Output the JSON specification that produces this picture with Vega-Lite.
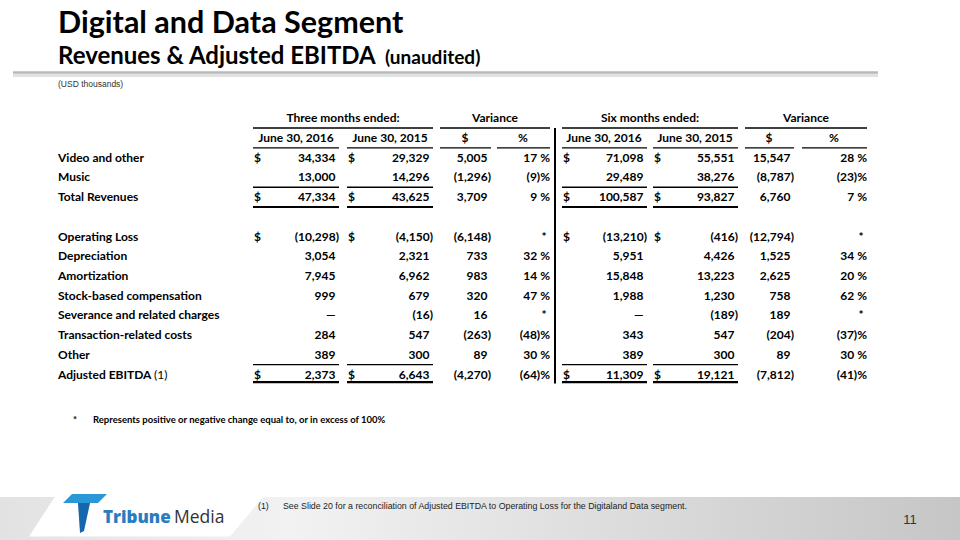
{
  "$schema": "https://vega.github.io/schema/vega-lite/v6.json",
  "width": 960,
  "height": 540,
  "autosize": "none",
  "padding": 0,
  "background": "white",
  "config": {"view": {"stroke": null}},
  "datasets": {
    "table": [
      {"r": 2, "label": "Video and other", "g1": "34,334", "g2": "29,329", "g3": "5,005", "g4": "17 %", "g5": "71,098", "g6": "55,551", "g7": "15,547", "g8": "28 %"},
      {"r": 3, "label": "Music", "g1": "13,000", "g2": "14,296", "g3": "(1,296)", "g4": "(9)%", "g5": "29,489", "g6": "38,276", "g7": "(8,787)", "g8": "(23)%"},
      {"r": 4, "label": "Total Revenues", "g1": "47,334", "g2": "43,625", "g3": "3,709", "g4": "9 %", "g5": "100,587", "g6": "93,827", "g7": "6,760", "g8": "7 %"},
      {"r": 6, "label": "Operating Loss", "g1": "(10,298)", "g2": "(4,150)", "g3": "(6,148)", "g4": "*", "g5": "(13,210)", "g6": "(416)", "g7": "(12,794)", "g8": "*"},
      {"r": 7, "label": "Depreciation", "g1": "3,054", "g2": "2,321", "g3": "733", "g4": "32 %", "g5": "5,951", "g6": "4,426", "g7": "1,525", "g8": "34 %"},
      {"r": 8, "label": "Amortization", "g1": "7,945", "g2": "6,962", "g3": "983", "g4": "14 %", "g5": "15,848", "g6": "13,223", "g7": "2,625", "g8": "20 %"},
      {"r": 9, "label": "Stock-based compensation", "g1": "999", "g2": "679", "g3": "320", "g4": "47 %", "g5": "1,988", "g6": "1,230", "g7": "758", "g8": "62 %"},
      {"r": 10, "label": "Severance and related charges", "g1": "—", "g2": "(16)", "g3": "16", "g4": "*", "g5": "—", "g6": "(189)", "g7": "189", "g8": "*"},
      {"r": 11, "label": "Transaction-related costs", "g1": "284", "g2": "547", "g3": "(263)", "g4": "(48)%", "g5": "343", "g6": "547", "g7": "(204)", "g8": "(37)%"},
      {"r": 12, "label": "Other", "g1": "389", "g2": "300", "g3": "89", "g4": "30 %", "g5": "389", "g6": "300", "g7": "89", "g8": "30 %"},
      {"r": 13, "label": "Adjusted EBITDA", "g1": "2,373", "g2": "6,643", "g3": "(4,270)", "g4": "(64)%", "g5": "11,309", "g6": "19,121", "g7": "(7,812)", "g8": "(41)%"}
    ],
    "columns": [
      {"col": "label", "c": 2},
      {"col": "g1", "c": 12}, {"col": "g2", "c": 22}, {"col": "g3", "c": 32}, {"col": "g4", "c": 42},
      {"col": "g5", "c": 52}, {"col": "g6", "c": 62}, {"col": "g7", "c": 72}, {"col": "g8", "c": 82}
    ],
    "dollars": [
      {"r": 2, "c": 10, "t": "$"}, {"r": 2, "c": 20, "t": "$"}, {"r": 2, "c": 50, "t": "$"}, {"r": 2, "c": 60, "t": "$"},
      {"r": 4, "c": 10, "t": "$"}, {"r": 4, "c": 20, "t": "$"}, {"r": 4, "c": 50, "t": "$"}, {"r": 4, "c": 60, "t": "$"},
      {"r": 6, "c": 10, "t": "$"}, {"r": 6, "c": 20, "t": "$"}, {"r": 6, "c": 50, "t": "$"}, {"r": 6, "c": 60, "t": "$"},
      {"r": 13, "c": 10, "t": "$"}, {"r": 13, "c": 20, "t": "$"}, {"r": 13, "c": 50, "t": "$"}, {"r": 13, "c": 60, "t": "$"}
    ],
    "headers": [
      {"r": 0, "c": 12.5, "t": "Three months ended:"},
      {"r": 0, "c": 32.5, "t": "Variance"},
      {"r": 0, "c": 52.5, "t": "Six months ended:"},
      {"r": 0, "c": 80.5, "t": "Variance"},
      {"r": 1, "c": 11, "t": "June 30, 2016"},
      {"r": 1, "c": 21, "t": "June 30, 2015"},
      {"r": 1, "c": 31, "t": "$"},
      {"r": 1, "c": 41, "t": "%"},
      {"r": 1, "c": 51, "t": "June 30, 2016"},
      {"r": 1, "c": 61, "t": "June 30, 2015"},
      {"r": 1, "c": 71, "t": "$"},
      {"r": 1, "c": 81, "t": "%"}
    ],
    "thinLines": [
      {"r": 0.5, "c": 10, "c2": 22}, {"r": 0.5, "c": 30, "c2": 42}, {"r": 0.5, "c": 50, "c2": 62}, {"r": 0.5, "c": 70, "c2": 82},
      {"r": 1.5, "c": 10, "c2": 12}, {"r": 1.5, "c": 20, "c2": 22}, {"r": 1.5, "c": 30, "c2": 32}, {"r": 1.5, "c": 40, "c2": 42},
      {"r": 1.5, "c": 50, "c2": 52}, {"r": 1.5, "c": 60, "c2": 62}, {"r": 1.5, "c": 70, "c2": 72}, {"r": 1.5, "c": 80, "c2": 82},
      {"r": 3.5, "c": 10, "c2": 12}, {"r": 3.5, "c": 20, "c2": 22}, {"r": 3.5, "c": 50, "c2": 52}, {"r": 3.5, "c": 60, "c2": 62},
      {"r": 12.5, "c": 10, "c2": 12}, {"r": 12.5, "c": 20, "c2": 22}, {"r": 12.5, "c": 50, "c2": 52}, {"r": 12.5, "c": 60, "c2": 62}
    ],
    "thickLines": [
      {"r": 4.5, "c": 10, "c2": 12}, {"r": 4.5, "c": 20, "c2": 22}, {"r": 4.5, "c": 50, "c2": 52}, {"r": 4.5, "c": 60, "c2": 62},
      {"r": 13.5, "c": 10, "c2": 12}, {"r": 13.5, "c": 20, "c2": 22}, {"r": 13.5, "c": 50, "c2": 52}, {"r": 13.5, "c": 60, "c2": 62}
    ]
  },
  "encoding": {
    "x": {
      "field": "c", "type": "quantitative", "axis": null,
      "scale": {
        "domain": [0, 1, 2, 3, 4, 5, 6, 7, 8, 10, 10.2, 10.4, 11, 12, 12.5, 20, 20.9, 21, 22, 30, 31, 32, 32.5, 40, 41, 42, 45, 50, 51, 52, 52.5, 60, 61, 62, 70, 71, 72, 80, 80.5, 81, 82, 90, 95, 100],
        "range": [0, 13, 58, 73, 85, 93, 103, 154, 174, 253, 258, 283, 296, 339, 343, 347, 385, 390, 433, 440, 465, 491, 495, 497, 523, 550, 555, 562, 604, 647, 650, 653, 695, 738, 745, 769, 794, 802, 806, 834, 867, 878, 910, 960],
        "nice": false, "zero": false
      }
    },
    "y": {
      "field": "r", "type": "quantitative", "axis": null,
      "scale": {
        "domain": [-6, -5, -4, -3.5, -3, 0, 1, 13, 16, 17, 18, 19, 20, 21, 22],
        "range": [0, 33, 64, 72.5, 87, 118, 138, 374.5, 420, 497, 506, 512, 518, 520, 540],
        "nice": false, "zero": false
      }
    }
  },
  "layer": [
    {
      "data": {"values": [{"c": 0, "c2": 100, "r": 17, "r2": 22}]},
      "mark": {"type": "rect", "color": {"gradient": "linear", "x1": 0, "x2": 1, "y1": 0, "y2": 0, "stops": [{"offset": 0, "color": "#e2e2e2"}, {"offset": 0.3, "color": "#f2f2f2"}, {"offset": 1, "color": "#c6c6c6"}]}},
      "encoding": {"x2": {"field": "c2"}, "y2": {"field": "r2"}}
    },
    {
      "data": {"values": [{"c": 7, "r": 19.5}]},
      "mark": {"type": "point", "filled": true, "opacity": 1, "color": "white", "size": 40000, "shape": "M-0.97,-0.215L1.12,-0.215L0.76,0.215L-1.25,0.215Z"}
    },
    {
      "data": {"values": [{"c": 4, "r": 19}]},
      "mark": {"type": "point", "filled": true, "opacity": 1, "color": "#2a98d6", "size": 400, "shape": "M-1.3,-1.8L2.2,-1.8L1.3,-0.9L-2.2,-0.9Z"}
    },
    {
      "data": {"values": [{"c": 4, "r": 19}]},
      "mark": {"type": "point", "filled": true, "opacity": 1, "color": "#1566ad", "size": 400, "shape": "M-0.7,-0.9L0.5,-0.9L-0.1,1.9L-0.5,2.1Z"}
    },
    {
      "data": {"values": [{"c": 6, "r": 20, "t": "Tribune"}]},
      "mark": {"type": "text", "align": "left", "baseline": "middle", "font": "Open Sans", "fontWeight": 800, "fontSize": 17, "color": "#2a7cc0"},
      "encoding": {"text": {"field": "t"}}
    },
    {
      "data": {"values": [{"c": 8, "r": 20, "t": "Media"}]},
      "mark": {"type": "text", "align": "left", "baseline": "middle", "font": "Open Sans", "fontWeight": 400, "fontSize": 17.5, "color": "#333333"},
      "encoding": {"text": {"field": "t"}}
    },
    {
      "data": {"values": [{"c": 10.2, "r": 18, "t": "(1)"}, {"c": 10.4, "r": 18, "t": "See Slide 20 for a reconciliation of Adjusted EBITDA to Operating Loss for the Digitaland Data segment."}]},
      "mark": {"type": "text", "align": "left", "baseline": "middle", "font": "Liberation Sans", "fontSize": 8.8, "color": "#222222"},
      "encoding": {"text": {"field": "t"}}
    },
    {
      "data": {"values": [{"c": 95, "r": 21, "t": "11"}]},
      "mark": {"type": "text", "align": "center", "baseline": "middle", "font": "Liberation Sans", "fontSize": 13, "color": "#333333"},
      "encoding": {"text": {"field": "t"}}
    },
    {
      "data": {"values": [{"c": 1, "c2": 90, "r": -3.4}]},
      "mark": {"type": "rule", "color": "#e2e2e2", "strokeWidth": 3},
      "encoding": {"x2": {"field": "c2"}}
    },
    {
      "data": {"values": [{"c": 1, "c2": 90, "r": -3.5}]},
      "mark": {"type": "rule", "color": "#b8b8b8", "strokeWidth": 2.5},
      "encoding": {"x2": {"field": "c2"}}
    },
    {
      "data": {"values": [{"c": 2, "r": -5, "t": "Digital and Data Segment"}]},
      "mark": {"type": "text", "align": "left", "baseline": "alphabetic", "font": "Lato", "fontWeight": "bold", "fontSize": 30.5, "color": "#000000"},
      "encoding": {"text": {"field": "t"}}
    },
    {
      "data": {"values": [{"c": 2, "r": -4, "t": "Revenues & Adjusted EBITDA"}]},
      "mark": {"type": "text", "align": "left", "baseline": "alphabetic", "font": "Lato", "fontWeight": "bold", "fontSize": 24, "color": "#000000"},
      "encoding": {"text": {"field": "t"}}
    },
    {
      "data": {"values": [{"c": 20.9, "r": -4, "t": "(unaudited)"}]},
      "mark": {"type": "text", "align": "left", "baseline": "alphabetic", "font": "Lato", "fontWeight": "bold", "fontSize": 19, "color": "#000000"},
      "encoding": {"text": {"field": "t"}}
    },
    {
      "data": {"values": [{"c": 2, "r": -3, "t": "(USD thousands)"}]},
      "mark": {"type": "text", "align": "left", "baseline": "alphabetic", "font": "Liberation Sans", "fontSize": 8.5, "color": "#333333"},
      "encoding": {"text": {"field": "t"}}
    },
    {
      "data": {"values": [{"c": 3, "r": 16, "t": "*"}, {"c": 5, "r": 16, "t": "Represents positive or negative change equal to, or in excess of 100%"}]},
      "mark": {"type": "text", "align": "left", "baseline": "middle", "font": "Lato", "fontWeight": "bold", "fontSize": 9.5, "color": "#000000"},
      "encoding": {"text": {"field": "t"}}
    },
    {
      "data": {"name": "thinLines"},
      "mark": {"type": "rule", "color": "#000000", "strokeWidth": 1.3},
      "encoding": {"x2": {"field": "c2"}}
    },
    {
      "data": {"name": "thickLines"},
      "mark": {"type": "rule", "color": "#000000", "strokeWidth": 2.2},
      "encoding": {"x2": {"field": "c2"}}
    },
    {
      "data": {"values": [{"c": 45, "r": 0.5, "r2": 13.6}]},
      "mark": {"type": "rule", "color": "#000000", "strokeWidth": 2},
      "encoding": {"y2": {"field": "r2"}}
    },
    {
      "data": {"name": "headers"},
      "mark": {"type": "text", "align": "center", "baseline": "middle", "font": "Lato", "fontWeight": "bold", "fontSize": 12, "color": "#000000"},
      "encoding": {"text": {"field": "t"}}
    },
    {
      "data": {"name": "table"},
      "transform": [
        {"fold": ["label"], "as": ["col", "t"]},
        {"lookup": "col", "from": {"data": {"name": "columns"}, "key": "col", "fields": ["c"]}}
      ],
      "mark": {"type": "text", "align": "left", "baseline": "middle", "font": "Lato", "fontWeight": "bold", "fontSize": 12, "color": "#000000"},
      "encoding": {"text": {"field": "t"}}
    },
    {
      "data": {"values": [{"c": 7, "r": 13, "t": "(1)"}]},
      "mark": {"type": "text", "align": "left", "baseline": "middle", "font": "Lato", "fontWeight": "normal", "fontSize": 12, "color": "#000000"},
      "encoding": {"text": {"field": "t"}}
    },
    {
      "data": {"name": "dollars"},
      "mark": {"type": "text", "align": "left", "baseline": "middle", "dx": 1, "font": "Lato", "fontWeight": "bold", "fontSize": 12, "color": "#000000"},
      "encoding": {"text": {"field": "t"}}
    },
    {
      "data": {"name": "table"},
      "transform": [
        {"fold": ["g1", "g2", "g3", "g4", "g5", "g6", "g7", "g8"], "as": ["col", "t"]},
        {"lookup": "col", "from": {"data": {"name": "columns"}, "key": "col", "fields": ["c"]}},
        {"filter": "indexof(datum.t, ')') < 0 && indexof(datum.t, '%') < 0"}
      ],
      "mark": {"type": "text", "align": "right", "baseline": "middle", "dx": -3.5, "font": "Lato", "fontWeight": "bold", "fontSize": 12, "color": "#000000"},
      "encoding": {"text": {"field": "t"}}
    },
    {
      "data": {"name": "table"},
      "transform": [
        {"fold": ["g1", "g2", "g3", "g4", "g5", "g6", "g7", "g8"], "as": ["col", "t"]},
        {"lookup": "col", "from": {"data": {"name": "columns"}, "key": "col", "fields": ["c"]}},
        {"filter": "indexof(datum.t, ')') >= 0 || indexof(datum.t, '%') >= 0"}
      ],
      "mark": {"type": "text", "align": "right", "baseline": "middle", "dx": 0, "font": "Lato", "fontWeight": "bold", "fontSize": 12, "color": "#000000"},
      "encoding": {"text": {"field": "t"}}
    }
  ]
}
